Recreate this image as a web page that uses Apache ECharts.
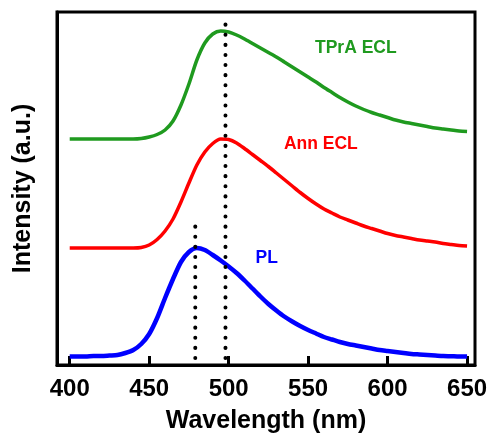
<!DOCTYPE html>
<html>
<head>
<meta charset="utf-8">
<script src="https://cdn.jsdelivr.net/npm/echarts@6/dist/echarts.min.js"></script>
<style>
  html, body { margin: 0; padding: 0; background: #fff; }
  #chart { width: 491px; height: 435px; }
</style>
</head>
<body>
<div id="chart"></div>
<script>
// Emission wavelengths (nm), sampled every 5 nm
const wavelengths = [
  400, 405, 410, 415, 420, 425, 430, 435, 440, 445,
  450, 455, 460, 465, 470, 475, 480, 485, 490, 495,
  500, 505, 510, 515, 520, 525, 530, 535, 540, 545,
  550, 555, 560, 565, 570, 575, 580, 585, 590, 595,
  600, 605, 610, 615, 620, 625, 630, 635, 640, 645, 650
];

// Vertically offset spectra (a.u.)
const tpraEcl = [
  2.26, 2.26, 2.26, 2.26, 2.26, 2.26, 2.26, 2.26, 2.26, 2.265,
  2.28, 2.305, 2.35, 2.44, 2.60, 2.81, 3.05, 3.22, 3.31, 3.34,
  3.33, 3.30, 3.26, 3.215, 3.17, 3.125, 3.08, 3.03, 2.98, 2.93,
  2.88, 2.83, 2.775, 2.725, 2.675, 2.63, 2.59, 2.555, 2.525, 2.50,
  2.475, 2.45, 2.43, 2.415, 2.40, 2.385, 2.37, 2.36, 2.35, 2.34, 2.335
];
const annEcl = [
  1.17, 1.17, 1.17, 1.17, 1.17, 1.17, 1.17, 1.17, 1.17, 1.175,
  1.20, 1.255, 1.34, 1.46, 1.63, 1.82, 2.00, 2.13, 2.215, 2.26,
  2.255, 2.22, 2.165, 2.105, 2.045, 1.985, 1.92, 1.855, 1.79, 1.725,
  1.665, 1.61, 1.56, 1.52, 1.48, 1.45, 1.42, 1.39, 1.365, 1.34,
  1.315, 1.295, 1.28, 1.265, 1.25, 1.24, 1.23, 1.215, 1.205, 1.195, 1.19
];
const pl = [
  0.085, 0.085, 0.085, 0.09, 0.09, 0.095, 0.10, 0.12, 0.15, 0.21,
  0.31, 0.47, 0.67, 0.86, 1.03, 1.13, 1.17, 1.15, 1.10, 1.045,
  0.985, 0.92, 0.845, 0.765, 0.685, 0.61, 0.545, 0.485, 0.435, 0.39,
  0.35, 0.315, 0.28, 0.255, 0.23, 0.21, 0.195, 0.18, 0.165, 0.15,
  0.14, 0.13, 0.12, 0.11, 0.105, 0.10, 0.095, 0.09, 0.088, 0.085, 0.085
];

// Peak guide lines: wavelength, top and bottom of each dotted line
const peakWavelengths = [498, 479];
const peakTops = [3.48, 1.39];
const peakBottom = 0.07;

const xTicks = [400, 450, 500, 550, 600, 650];

const curveNames = ['TPrA ECL', 'Ann ECL', 'PL'];
const curveColors = ['#1f9a1f', '#ff0000', '#0000ff'];
const curveValues = [tpraEcl, annEcl, pl];

const FONT = '"Liberation Sans", Arial, sans-serif';

const pairs = (ys) => wavelengths.map((w, i) => [w, ys[i]]);

const curveSeries = curveNames.map((name, k) => ({
  name: name,
  type: 'line',
  data: pairs(curveValues[k]),
  showSymbol: false,
  smooth: 0.25,
  lineStyle: { color: curveColors[k], width: k === 2 ? 4.5 : 3.5, join: 'round' },
  z: 2
}));

const guideSeries = peakWavelengths.map((w, i) => ({
  type: 'line',
  data: [[w, peakBottom], [w, peakTops[i]]],
  showSymbol: false,
  silent: true,
  lineStyle: { color: '#000', width: 4, type: [0.1, 10], cap: 'round' },
  z: 5
}));

const chart = echarts.init(document.getElementById('chart'), null, { renderer: 'canvas' });

chart.setOption({
  animation: false,
  backgroundColor: '#fff',
  grid: {
    left: 57, right: 16, top: 12, bottom: 70,
    outerBoundsMode: 'none',
    show: true, borderColor: '#000', borderWidth: 3
  },
  xAxis: {
    type: 'value',
    min: 392,
    max: 655,
    name: 'Wavelength (nm)',
    nameLocation: 'middle',
    nameGap: 44,
    nameTextStyle: { fontFamily: FONT, fontWeight: 'bold', fontSize: 25, color: '#000' },
    axisLine: { show: true, lineStyle: { color: '#000', width: 3 } },
    axisTick: {
      show: true, inside: true, length: 9,
      customValues: xTicks,
      lineStyle: { color: '#000', width: 3 }
    },
    axisLabel: {
      customValues: xTicks,
      margin: 12,
      fontFamily: FONT, fontWeight: 'bold', fontSize: 24, color: '#000'
    },
    splitLine: { show: false }
  },
  yAxis: {
    type: 'value',
    min: 0,
    max: 3.53,
    name: 'Intensity (a.u.)',
    nameLocation: 'middle',
    nameGap: 21,
    nameTextStyle: { fontFamily: FONT, fontWeight: 'bold', fontSize: 25, color: '#000' },
    axisLine: { show: true, lineStyle: { color: '#000', width: 3 } },
    axisTick: { show: false },
    axisLabel: { show: false },
    splitLine: { show: false }
  },
  series: curveSeries.concat(guideSeries)
});

// Curve captions, anchored in data coordinates
const captionAnchors = [[580, 3.17], [558, 2.21], [524, 1.07]];
chart.setOption({
  graphic: curveNames.map((name, k) => {
    const p = chart.convertToPixel({ gridIndex: 0 }, captionAnchors[k]);
    return {
      type: 'text',
      x: p[0], y: p[1],
      style: {
        text: name,
        fill: curveColors[k],
        font: 'bold 17.5px ' + FONT,
        align: 'center',
        verticalAlign: 'middle'
      },
      z: 10
    };
  })
});
</script>
</body>
</html>
